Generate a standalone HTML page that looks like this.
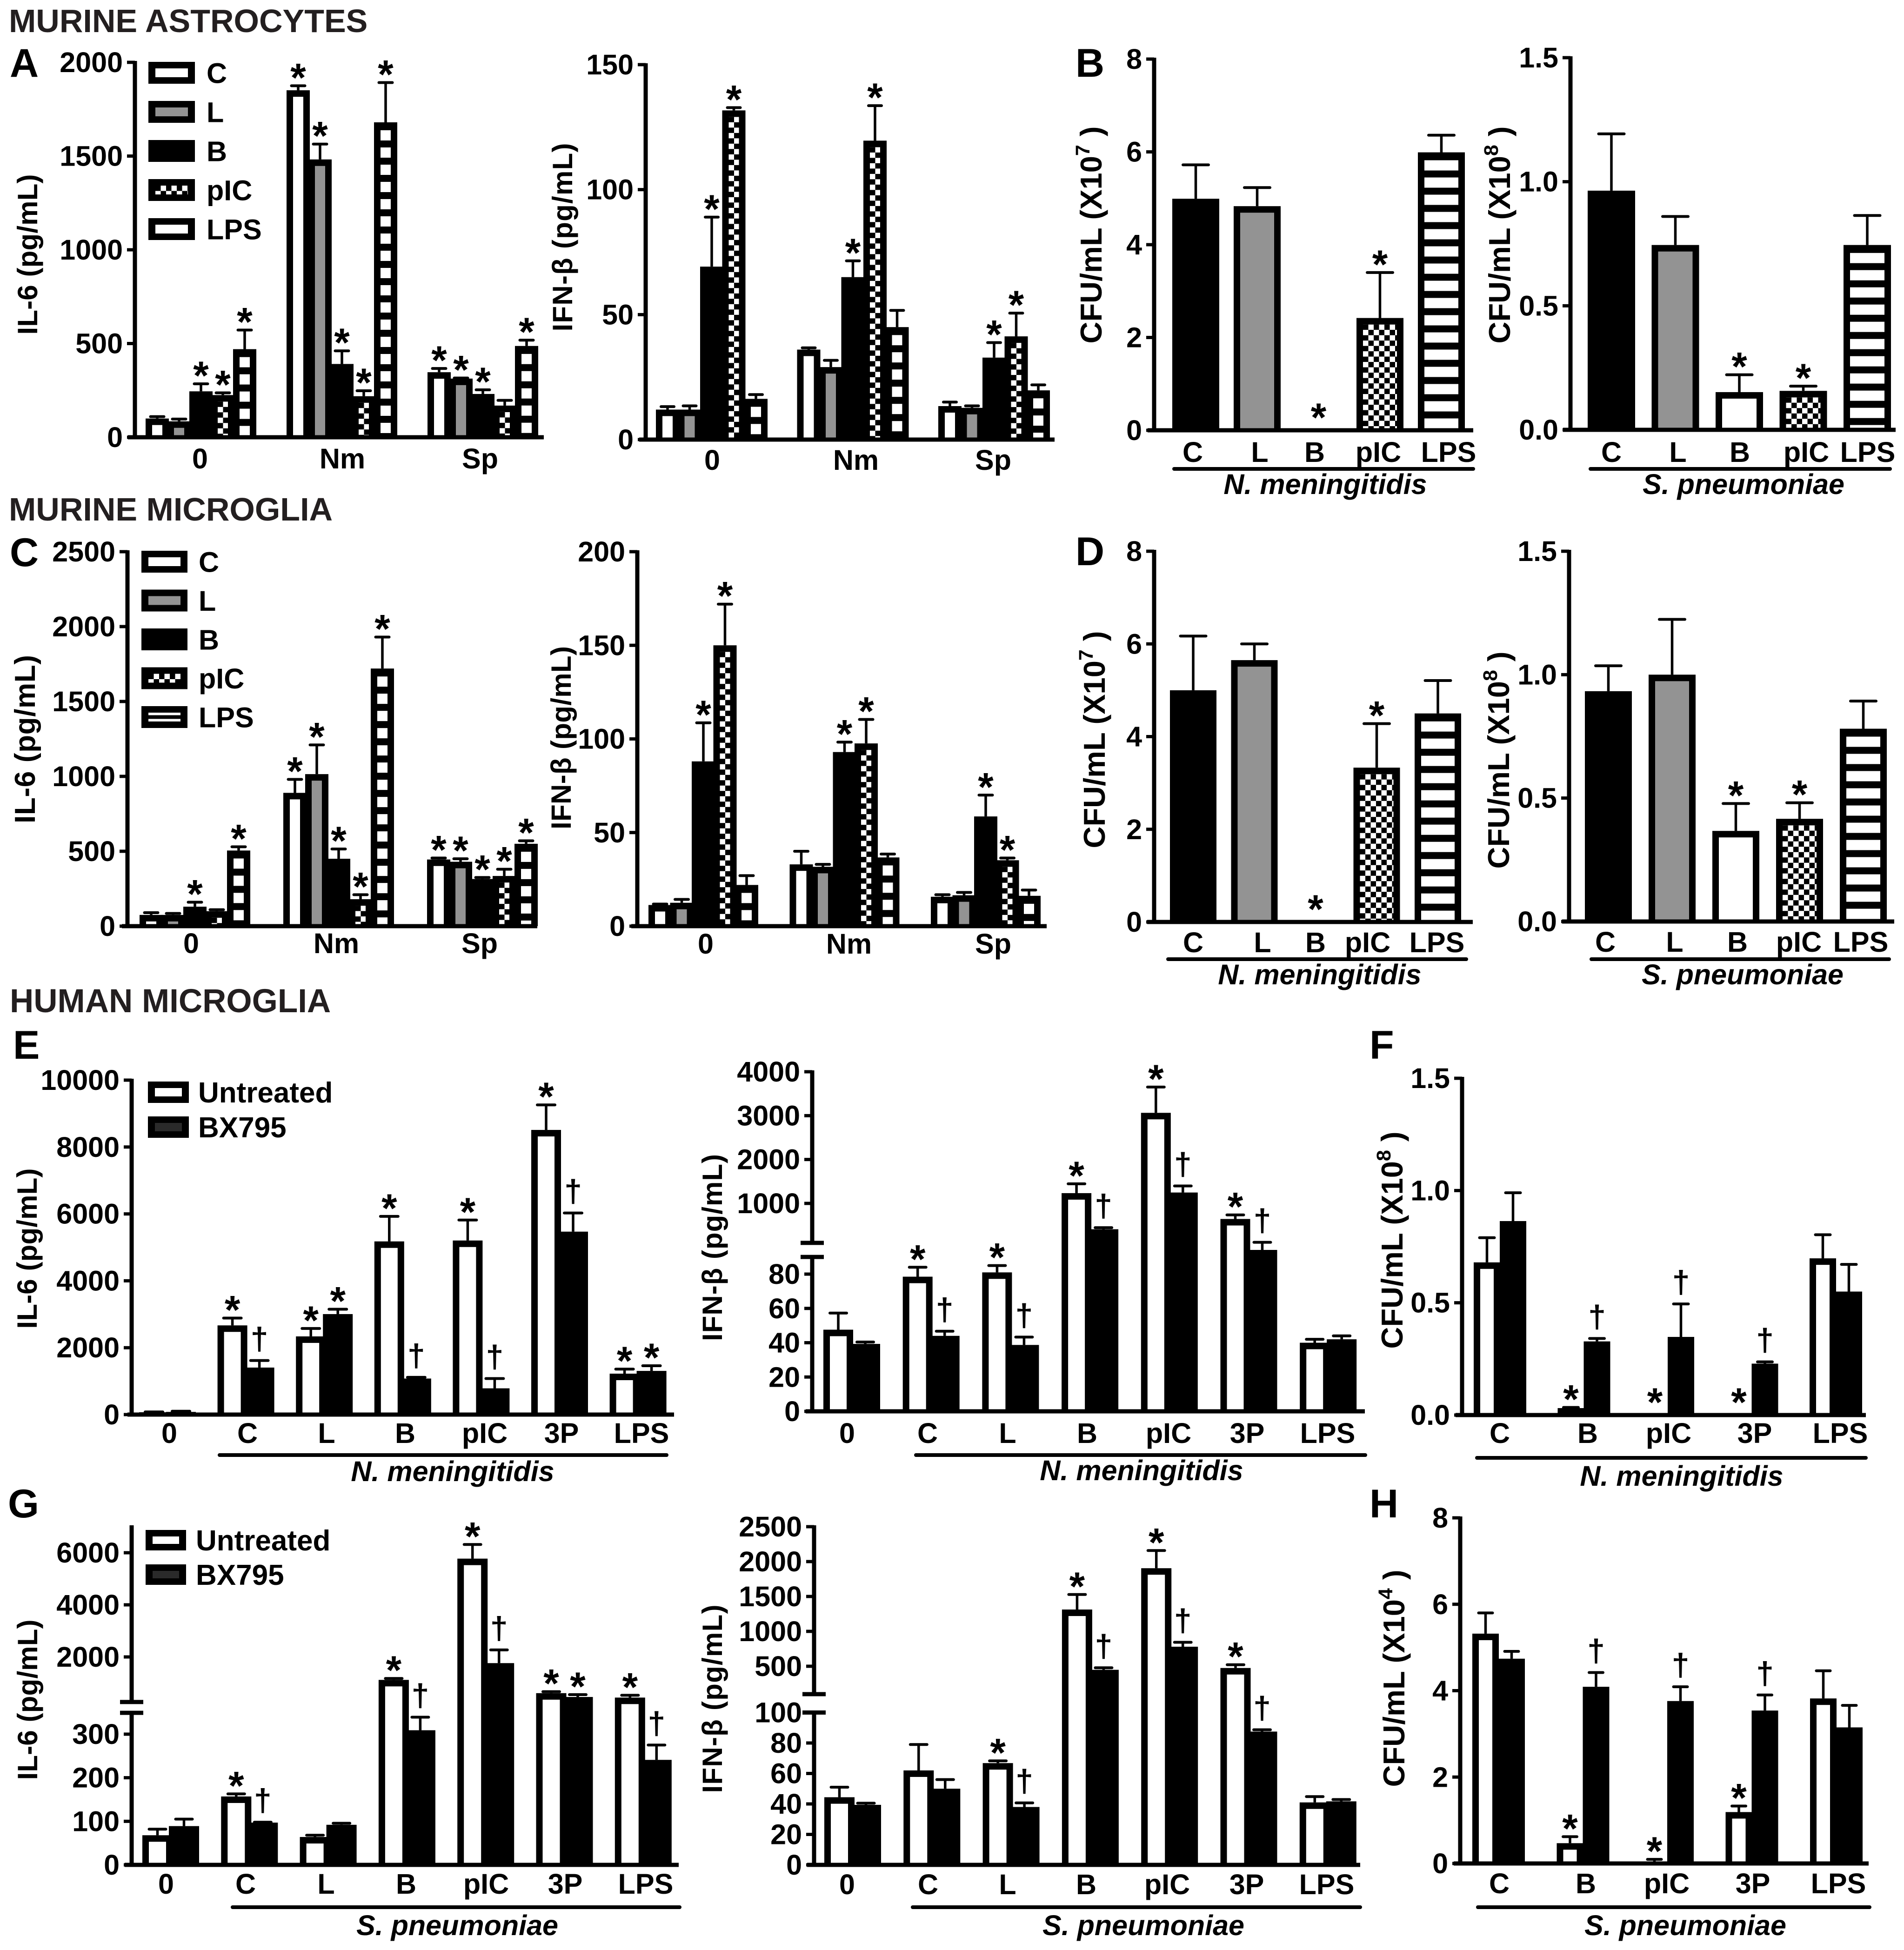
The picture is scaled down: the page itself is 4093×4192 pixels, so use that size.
<!DOCTYPE html>
<html lang="en">
<head>
<meta charset="utf-8">
<title>Murine and human glia cytokine and bacterial burden bar charts</title>
<style>
html,body{margin:0;padding:0;background:#fff;}
svg{display:block;position:absolute;left:0;top:0;}
text{font-family:"Liberation Sans",Arial,sans-serif;font-weight:bold;fill:#000;}
.heading{font-size:70px;fill:#231f20;}
.letter{font-size:86px;}
</style>
</head>
<body>
<svg id="figure" xmlns="http://www.w3.org/2000/svg" width="4093" height="4192" viewBox="0 0 4093 4192">
<defs>
<pattern id="check" patternUnits="userSpaceOnUse" width="23" height="23">
<rect width="23" height="23" fill="#fff"/>
<rect width="11.5" height="11.5" fill="#000"/>
<rect x="11.5" y="11.5" width="11.5" height="11.5" fill="#000"/>
</pattern>
<pattern id="stripe" patternUnits="userSpaceOnUse" width="100" height="37">
<rect width="100" height="22" fill="#fff"/>
<rect y="22" width="100" height="15" fill="#000"/>
</pattern>
</defs>
<rect width="4093" height="4192" fill="#fff"/>
<text class="heading" x="19" y="69">MURINE ASTROCYTES</text>
<text class="heading" x="19" y="1119">MURINE MICROGLIA</text>
<text class="heading" x="21" y="2176" style="font-size:71px">HUMAN MICROGLIA</text>
<text class="letter" x="21" y="165">A</text>
<text class="letter" x="2312" y="165">B</text>
<text class="letter" x="21" y="1217">C</text>
<text class="letter" x="2312" y="1215">D</text>
<text class="letter" x="28" y="2276">E</text>
<text class="letter" x="2944" y="2276">F</text>
<text class="letter" x="17" y="3262">G</text>
<text class="letter" x="2944" y="3262">H</text>
</svg>
<script>
/* ---------- chart data ---------- */
const groupCategories = ['0', 'Nm', 'Sp'];
const cfuCategories = ['C', 'L', 'B', 'pIC', 'LPS'];
const humanCategories = ['0', 'C', 'L', 'B', 'pIC', '3P', 'LPS'];
const humanCfuCategories = ['C', 'B', 'pIC', '3P', 'LPS'];

const a1Ticks = [0, 500, 1000, 1500, 2000];
const a1Values = [[100, 85, 245, 225, 470], [1851, 1482, 391, 219, 1680], [347, 313, 231, 169, 487]];
const a1Upper = [[110, 97, 285, 237, 572], [1875, 1564, 461, 248, 1892], [367, 316, 253, 197, 518]];
const a1Marks = [['', '', '*', '*', '*'], ['*', '*', '*', '*', '*'], ['*', '*', '*', '', '*']];

const a2Ticks = [0, 50, 100, 150];
const a2Values = [[12, 12, 69.2, 131.7, 16.3], [36, 29, 65, 119.6, 45], [13.4, 12.7, 32.8, 41.3, 19.7]];
const a2Upper = [[13.2, 13.5, 89, 132.8, 18], [36.7, 31.7, 71.5, 133.6, 51.7], [15, 13.5, 38.8, 50.6, 21.9]];
const a2Marks = [['', '', '*', '*', ''], ['', '', '*', '*', ''], ['', '', '*', '*', '']];

const b1Ticks = [0, 2, 4, 6, 8];
const b1Values = [[4.99], [4.83], [0], [2.42], [5.99]];
const b1Upper = [[5.72], [5.23], [0], [3.4], [6.36]];
const b1Marks = [[''], [''], ['*'], ['*'], ['']];

const b2Ticks = [0, 0.5, 1, 1.5];
const b2TickLabels = ['0.0', '0.5', '1.0', '1.5'];
const b2Values = [[0.964], [0.745], [0.152], [0.157], [0.745]];
const b2Upper = [[1.193], [0.86], [0.222], [0.176], [0.864]];
const b2Marks = [[''], [''], ['*'], ['*'], ['']];

const c1Ticks = [0, 500, 1000, 1500, 2000, 2500];
const c1Values = [[75, 75, 130, 100, 505], [890, 1015, 450, 180, 1720], [445, 430, 315, 335, 550]];
const c1Upper = [[90, 85, 160, 110, 530], [980, 1210, 515, 210, 1930], [455, 450, 325, 380, 570]];
const c1Marks = [['', '', '*', '', '*'], ['*', '*', '*', '*', '*'], ['*', '*', '*', '*', '*']];

const c2Ticks = [0, 50, 100, 150, 200];
const c2Values = [[11.3, 12.5, 88, 150, 22], [33, 31.7, 93, 97.6, 36.7], [15.7, 16.5, 58.6, 35.2, 16.2]];
const c2Upper = [[11.8, 14.3, 108.6, 172, 27], [40, 33, 98.3, 110.4, 38.5], [16.8, 18, 70, 36.4, 19.3]];
const c2Marks = [['', '', '*', '*', ''], ['', '', '*', '*', ''], ['', '', '*', '*', '']];

const d1Ticks = [0, 2, 4, 6, 8];
const d1Values = [[5], [5.65], [0], [3.33], [4.5]];
const d1Upper = [[6.17], [6], [0], [4.28], [5.21]];
const d1Marks = [[''], [''], ['*'], ['*'], ['']];

const d2Ticks = [0, 0.5, 1, 1.5];
const d2TickLabels = ['0.0', '0.5', '1.0', '1.5'];
const d2Values = [[0.933], [1], [0.367], [0.416], [0.781]];
const d2Upper = [[1.036], [1.224], [0.478], [0.481], [0.893]];
const d2Marks = [[''], [''], ['*'], ['*'], ['']];

const e1Ticks = [0, 2000, 4000, 6000, 8000, 10000];
const e1Values = [[70, 80], [2667, 1406], [2338, 3005], [5178, 1078], [5205, 785], [8511, 5470], [1224, 1306]];
const e1Upper = [[80, 100], [2886, 1616], [2575, 3150], [5927, 1114], [5817, 1078], [9260, 6027], [1360, 1461]];
const e1Marks = [['', ''], ['*', '†'], ['*', '*'], ['*', '†'], ['*', '†'], ['*', '†'], ['*', '*']];

const e2Ticks = [0, 20, 40, 60, 80, 1000, 2000, 3000, 4000];
const e2Values = [[47.6, 39.3], [78.5, 44], [81, 38.7], [1234, 411], [3064, 1248], [645, 95], [40, 42]];
const e2Upper = [[57.3, 40.4], [84, 46.7], [85, 43.3], [1447, 447], [3652, 1397], [738, 114], [42, 44]];
const e2Marks = [['', ''], ['*', '†'], ['*', '†'], ['*', '†'], ['*', '†'], ['*', '†'], ['', '']];

const fTicks = [0, 0.5, 1, 1.5];
const fTickLabels = ['0.0', '0.5', '1.0', '1.5'];
const fValues = [[0.68, 0.864], [0.031, 0.328], [0, 0.348], [0, 0.229], [0.698, 0.55]];
const fUpper = [[0.79, 0.99], [0.034, 0.341], [0, 0.495], [0, 0.237], [0.803, 0.671]];
const fMarks = [['', ''], ['*', '†'], ['*', '†'], ['*', '†'], ['', '']];

const g1Ticks = [0, 100, 200, 300, 2000, 4000, 6000];
const g1Values = [[68, 89], [157, 97], [64, 92], [1119, 309], [5774, 1763], [610, 463], [440, 241]];
const g1Upper = [[82, 105], [163, 98], [68, 95.6], [1175, 339], [6316, 2271], [667, 553], [530, 275]];
const g1Marks = [['', ''], ['*', '†'], ['', ''], ['*', '†'], ['*', '†'], ['*', '*'], ['*', '†']];

const g2Ticks = [0, 20, 40, 60, 80, 100, 500, 1000, 1500, 2000, 2500];
const g2Values = [[44.4, 39.4], [62, 50], [66.8, 38], [1313, 449], [1905, 780], [475, 87.5], [41, 41.7]];
const g2Upper = [[51, 40.5], [79, 56], [68.3, 40.7], [1528, 478], [2158, 843], [522, 88.7], [44.8, 42.9]];
const g2Marks = [['', ''], ['', ''], ['*', '†'], ['*', '†'], ['*', '†'], ['*', '†'], ['', '']];

const hTicks = [0, 2, 4, 6, 8];
const hValues = [[5.32, 4.74], [0.47, 4.09], [0.03, 3.76], [1.19, 3.54], [3.82, 3.15]];
const hUpper = [[5.8, 4.91], [0.62, 4.42], [0.095, 4.09], [1.33, 3.9], [4.46, 3.66]];
const hMarks = [['', ''], ['*', '†'], ['*', '†'], ['*', '†'], ['', '']];

const treatmentLegendLabels = ['C', 'L', 'B', 'pIC', 'LPS'];
const inhibitorLegendLabels = ['Untreated', 'BX795'];

/* ---------- bar styling (not data) ---------- */
const fiveFills = ['white', 'gray', 'black', 'check', 'stripe'];
const twoFills = ['white', 'black'];
const BORDER = 14;
const STRIPE_OFFSET = 17;

/* ---------- helpers ---------- */
const SVG_NS = 'http://www.w3.org/2000/svg';
const figure = document.getElementById('figure');

function make(tag, parent, attrs, text) {
  const el = document.createElementNS(SVG_NS, tag);
  for (const key in attrs) el.setAttribute(key, attrs[key]);
  if (text !== undefined) el.textContent = text;
  parent.appendChild(el);
  return el;
}

function linear(v0, y0, v1, y1) {
  return v => y0 + (v - v0) * (y1 - y0) / (v1 - v0);
}

function makeScale(spec) {
  if (!spec.lo) return linear(0, spec.y0, spec.vTop, spec.yTop);
  const lower = linear(0, spec.lo.y0, spec.lo.v1, spec.lo.y1);
  const upper = linear(spec.hi.v0, spec.hi.y0, spec.hi.v1, spec.hi.y1);
  const scale = v => {
    if (v <= spec.lo.max) return lower(v);
    if (v < spec.hi.min) {
      const t = (v - spec.lo.max) / (spec.hi.min - spec.lo.max);
      return lower(spec.lo.max) + t * (upper(spec.hi.min) - lower(spec.lo.max));
    }
    return upper(v);
  };
  scale.lower = lower;
  scale.upper = upper;
  return scale;
}

function paintInner(parent, kind, x, w, top, bottom) {
  const inner = { white: '#fff', gray: '#939393', check: 'url(#check)' };
  const h = bottom - top;
  if (h <= 0) return null;
  const offset = kind === 'stripe' ? STRIPE_OFFSET : BORDER;
  const iy = top + offset;
  const ih = bottom - iy;
  if (ih <= 0 || kind === 'black') return null;
  return make('rect', parent, {
    transform: 'translate(' + (x + BORDER) + ',' + iy + ')',
    width: w - 2 * BORDER,
    height: ih,
    fill: kind === 'stripe' ? 'url(#stripe)' : inner[kind]
  });
}

/* ---------- chart renderer ---------- */
function drawChart(p) {
  const y = makeScale(p.scale);
  const y0 = y(0);

  const chart = make('g', figure, {});
  
  

  const plot = make('g', chart, {});
  
  

  p.values.forEach((row, g) => {
    row.forEach((value, s) => {
      const x = p.start + g * p.pitch + s * p.step;
      const cx = x + p.barW / 2;
      const top = y(value);
      const kind = p.fillByCategory ? p.fills[g] : p.fills[s];

      if (value > 0 && kind !== 'none') {
        const barGroup = make('g', plot, {});
        
        
        const outer = make('rect', barGroup, { x: x, y: top, width: p.barW, height: y0 - top, fill: '#000' });
        
        
        const fill = paintInner(barGroup, kind, x, p.barW, top, y0);
        if (fill) {
          
          
        }
      }

      const upperValue = p.upper[g][s];
      const capY = y(upperValue);
      if (upperValue > value) {
        const stem = make('line', plot, { x1: cx, x2: cx, y1: top, y2: capY, stroke: '#000', 'stroke-width': 5.5 });
        
        
        const cap = make('line', plot, { x1: cx - p.capW / 2, x2: cx + p.capW / 2, y1: capY, y2: capY, stroke: '#000', 'stroke-width': 6, 'stroke-linecap': 'round' });
        
        
      }

      const mark = p.marks[g][s];
      if (mark === '*') {
        const gap = upperValue > 0 ? 14 : 24;
        const star = make('text', plot, { x: cx, y: capY - gap + 26, 'font-size': 86, 'text-anchor': 'middle' }, '*');
        
        
      } else if (mark === '†') {
        const dagger = make('text', plot, { x: cx, y: capY - 24, 'font-size': 68, 'text-anchor': 'middle' }, '†');
        
        
      }
    });
  });

  /* axes */
  const axes = make('g', chart, {});
  
  

  const xAxis = make('line', axes, { x1: p.xStart, x2: p.xEnd, y1: y0, y2: y0, stroke: '#000', 'stroke-width': 9 });
  
  

  const yTop = y(p.axisMax);
  if (p.scale.lo) {
    const breakLow = y.lower(p.scale.lo.max);
    const breakHigh = y.upper(p.scale.hi.min);
    const lowLine = make('line', axes, { x1: p.axisX, x2: p.axisX, y1: y0 + 4, y2: breakLow, stroke: '#000', 'stroke-width': 9 });
    
    
    const highLine = make('line', axes, { x1: p.axisX, x2: p.axisX, y1: breakHigh, y2: yTop - 3, stroke: '#000', 'stroke-width': 9 });
    
    
    const markLow = make('line', axes, { x1: p.axisX - 25, x2: p.axisX + 25, y1: breakLow, y2: breakLow, stroke: '#000', 'stroke-width': 9 });
    
    
    const markHigh = make('line', axes, { x1: p.axisX - 25, x2: p.axisX + 25, y1: breakHigh, y2: breakHigh, stroke: '#000', 'stroke-width': 9 });
    
    
  } else {
    const yLine = make('line', axes, { x1: p.axisX, x2: p.axisX, y1: y0 + 4, y2: yTop - 3, stroke: '#000', 'stroke-width': 9 });
    
    
  }

  p.ticks.forEach((tick, i) => {
    const ty = y(tick);
    const tickLine = make('line', axes, { x1: p.axisX - 17, x2: p.axisX, y1: ty, y2: ty, stroke: '#000', 'stroke-width': 7 });
    
    
    const label = p.tickLabels ? p.tickLabels[i] : String(tick);
    const tickText = make('text', axes, { x: p.axisX - 26, y: ty + 21, 'font-size': 61, 'text-anchor': 'end' }, label);
    
    
  });

  p.categories.forEach((cat, i) => {
    const catText = make('text', axes, { x: p.labelCenters[i], y: p.labelY + 22, 'font-size': 61, 'text-anchor': 'middle' }, cat);
    
    
  });

  /* axis title */
  const titleAttrs = {
    transform: 'translate(' + (p.title.x + 18) + ',' + p.title.y + ') rotate(-90)',
    'font-size': p.title.size || 60,
    'text-anchor': 'middle'
  };
  if (p.title.len) titleAttrs.textLength = p.title.len;
  const title = make('text', chart, titleAttrs);
  
  
  make('tspan', title, {}, p.title.text);
  if (p.title.sup) {
    make('tspan', title, { dy: -26, 'font-size': 43 }, p.title.sup);
    make('tspan', title, { dy: 26 }, p.title.end);
  }

  /* species underline and label */
  if (p.species) {
    const rule = make('line', chart, { x1: p.species.x1, x2: p.species.x2, y1: p.species.ruleY, y2: p.species.ruleY, stroke: '#000', 'stroke-width': 8, 'stroke-linecap': 'round' });
    
    
    const species = make('text', chart, { x: p.species.x, y: p.species.y, 'font-size': 61, 'font-style': 'italic', 'text-anchor': 'middle' }, p.species.name);
    
    
  }
}

function drawLegend(l) {
  const legend = make('g', figure, {});
  
  
  l.labels.forEach((label, i) => {
    const top = l.top + i * l.rowStep;
    const entry = make('g', legend, {});
    
    
    const box = make('rect', entry, { x: l.x, y: top, width: l.w, height: l.h, fill: '#000' });
    
    
    const kind = l.fills[i];
    const colours = { white: '#fff', gray: '#939393', check: 'url(#check)', dark: '#2a2a2a', lines: '#fff' };
    if (kind !== 'black') {
      const inner = make('rect', entry, {
        transform: 'translate(' + (l.x + 15) + ',' + (top + 14) + ')',
        width: l.w - 30,
        height: l.h - 28,
        fill: colours[kind]
      });
      
      
    }
    if (kind === 'lines') {
      const divider = make('rect', entry, { x: l.x + 15, y: top + l.h / 2 - 4, width: l.w - 30, height: 8, fill: '#000' });
      
      
    }
    const text = make('text', entry, { x: l.textX, y: top + l.h / 2 + 22, 'font-size': l.size }, label);
    
    
  });
}

/* ---------- panels ---------- */
drawChart({
  id: 'astrocyte-il6', categories: groupCategories, values: a1Values, upper: a1Upper, marks: a1Marks,
  ticks: a1Ticks, fills: fiveFills,
  scale: { y0: 940, vTop: 2000, yTop: 134 }, axisMax: 2000, axisX: 290, xStart: 275, xEnd: 1169,
  start: 313, pitch: 303, barW: 50, step: 47, capW: 29, labelCenters: [430, 736, 1032], labelY: 985,
  title: { text: 'IL-6 (pg/mL)', x: 62, y: 547, len: 345 }
});
drawChart({
  id: 'astrocyte-ifnb', categories: groupCategories, values: a2Values, upper: a2Upper, marks: a2Marks,
  ticks: a2Ticks, fills: fiveFills,
  scale: { y0: 945, vTop: 150, yTop: 139 }, axisMax: 150, axisX: 1388, xStart: 1374, xEnd: 2267,
  start: 1410, pitch: 303.5, barW: 50, step: 47.5, capW: 28, labelCenters: [1531, 1840, 2135], labelY: 988,
  title: { text: 'IFN-β (pg/mL)', x: 1212, y: 510, len: 405 }
});
drawChart({
  id: 'astrocyte-cfu-nm', categories: cfuCategories, values: b1Values, upper: b1Upper, marks: b1Marks,
  ticks: b1Ticks, fills: ['black', 'gray', 'none', 'check', 'stripe'], fillByCategory: true,
  scale: { y0: 925, vTop: 8, yTop: 127 }, axisMax: 8, axisX: 2481, xStart: 2467, xEnd: 3167,
  start: 2520, pitch: 132, barW: 101, step: 0, capW: 55, labelCenters: [2564, 2708, 2826, 2963, 3114], labelY: 971,
  title: { text: 'CFU/mL (X10', sup: '7', end: ' )', x: 2350, y: 505, size: 65 },
  species: { name: 'N. meningitidis', x1: 2524, x2: 3167, ruleY: 1008, x: 2849, y: 1062 }
});
drawChart({
  id: 'astrocyte-cfu-sp', categories: cfuCategories, values: b2Values, upper: b2Upper, marks: b2Marks,
  ticks: b2Ticks, tickLabels: b2TickLabels, fills: ['black', 'gray', 'white', 'check', 'stripe'], fillByCategory: true,
  scale: { y0: 924, vTop: 1.5, yTop: 124 }, axisMax: 1.5, axisX: 3376, xStart: 3360, xEnd: 4075,
  start: 3413, pitch: 137.5, barW: 102, step: 0, capW: 55, labelCenters: [3464, 3607, 3740, 3883, 4015], labelY: 971,
  title: { text: 'CFU/mL (X10', sup: '8', end: ' )', x: 3228, y: 505, size: 65 },
  species: { name: 'S. pneumoniae', x1: 3419, x2: 4063, ruleY: 1008, x: 3748, y: 1062 }
});
drawChart({
  id: 'microglia-il6', categories: groupCategories, values: c1Values, upper: c1Upper, marks: c1Marks,
  ticks: c1Ticks, fills: fiveFills,
  scale: { y0: 1991, vTop: 2500, yTop: 1186 }, axisMax: 2500, axisX: 274, xStart: 262, xEnd: 1155,
  start: 300, pitch: 309, barW: 50, step: 47, capW: 29, labelCenters: [411, 723, 1031], labelY: 2027,
  title: { text: 'IL-6 (pg/mL)', x: 57, y: 1589, len: 362, size: 62 }
});
drawChart({
  id: 'microglia-ifnb', categories: groupCategories, values: c2Values, upper: c2Upper, marks: c2Marks,
  ticks: c2Ticks, fills: fiveFills,
  scale: { y0: 1991, vTop: 200, yTop: 1186 }, axisMax: 200, axisX: 1370, xStart: 1357, xEnd: 2250,
  start: 1394, pitch: 303.5, barW: 50, step: 46.5, capW: 29, labelCenters: [1517, 1825, 2135], labelY: 2028,
  title: { text: 'IFN-β (pg/mL)', x: 1209, y: 1586, len: 394 }
});
drawChart({
  id: 'microglia-cfu-nm', categories: cfuCategories, values: d1Values, upper: d1Upper, marks: d1Marks,
  ticks: d1Ticks, fills: ['black', 'gray', 'none', 'check', 'stripe'], fillByCategory: true,
  scale: { y0: 1982, vTop: 8, yTop: 1185 }, axisMax: 8, axisX: 2481, xStart: 2466, xEnd: 3166,
  start: 2515, pitch: 131.5, barW: 100, step: 0, capW: 55, labelCenters: [2565, 2714, 2828, 2940, 3089], labelY: 2025,
  title: { text: 'CFU/mL (X10', sup: '7', end: ' )', x: 2357, y: 1590, size: 65 },
  species: { name: 'N. meningitidis', x1: 2511, x2: 3152, ruleY: 2062, x: 2837, y: 2116 }
});
drawChart({
  id: 'microglia-cfu-sp', categories: cfuCategories, values: d2Values, upper: d2Upper, marks: d2Marks,
  ticks: d2Ticks, tickLabels: d2TickLabels, fills: ['black', 'gray', 'white', 'check', 'stripe'], fillByCategory: true,
  scale: { y0: 1981, vTop: 1.5, yTop: 1185 }, axisMax: 1.5, axisX: 3373, xStart: 3358, xEnd: 4072,
  start: 3407, pitch: 137, barW: 101, step: 0, capW: 55, labelCenters: [3451, 3600, 3735, 3867, 4000], labelY: 2024,
  title: { text: 'CFU/mL (X10', sup: '8', end: ' )', x: 3226, y: 1634, size: 65 },
  species: { name: 'S. pneumoniae', x1: 3421, x2: 4061, ruleY: 2062, x: 3746, y: 2116 }
});
drawChart({
  id: 'human-nm-il6', categories: humanCategories, values: e1Values, upper: e1Upper, marks: e1Marks,
  ticks: e1Ticks, fills: twoFills,
  scale: { y0: 3041, vTop: 10000, yTop: 2322 }, axisMax: 10000, axisX: 283, xStart: 274, xEnd: 1449,
  start: 299, pitch: 168.6, barW: 64, step: 58, capW: 38, labelCenters: [364, 532, 702, 871, 1042, 1207, 1379], labelY: 3080,
  title: { text: 'IL-6 (pg/mL)', x: 61, y: 2684, len: 345 },
  species: { name: 'N. meningitidis', x1: 472, x2: 1433, ruleY: 3128, x: 973, y: 3184 }
});
drawChart({
  id: 'human-nm-ifnb', categories: humanCategories, values: e2Values, upper: e2Upper, marks: e2Marks,
  ticks: e2Ticks, fills: twoFills,
  scale: { lo: { y0: 3034, v1: 80, y1: 2739, max: 90 }, hi: { v0: 1000, y0: 2587, v1: 4000, y1: 2304, min: 100 } },
  axisMax: 4000, axisX: 1746, xStart: 1732, xEnd: 2934,
  start: 1770, pitch: 170.7, barW: 64, step: 58, capW: 36, labelCenters: [1821, 1994, 2166, 2337, 2512, 2681, 2854], labelY: 3080,
  title: { text: 'IFN-β (pg/mL)', x: 1534, y: 2682, len: 402 },
  species: { name: 'N. meningitidis', x1: 1969, x2: 2935, ruleY: 3128, x: 2454, y: 3182 }
});
drawChart({
  id: 'human-nm-cfu', categories: humanCfuCategories, values: fValues, upper: fUpper, marks: fMarks,
  ticks: fTicks, tickLabels: fTickLabels, fills: twoFills,
  scale: { y0: 3042, vTop: 1.5, yTop: 2318 }, axisMax: 1.5, axisX: 3143, xStart: 3129, xEnd: 4011,
  start: 3168, pitch: 180.5, barW: 57, step: 56, capW: 32, labelCenters: [3224, 3413, 3587, 3772, 3956], labelY: 3080,
  title: { text: 'CFU/mL (X10', sup: '8', end: ' )', x: 2997, y: 2666, size: 65 },
  species: { name: 'N. meningitidis', x1: 3175, x2: 4011, ruleY: 3134, x: 3615, y: 3194 }
});
drawChart({
  id: 'human-sp-il6', categories: humanCategories, values: g1Values, upper: g1Upper, marks: g1Marks,
  ticks: g1Ticks, fills: twoFills,
  scale: { lo: { y0: 4009, v1: 300, y1: 3728, max: 349 }, hi: { v0: 2000, y0: 3562, v1: 6000, y1: 3338, min: 271 } },
  axisMax: 7000, axisX: 283, xStart: 268, xEnd: 1459,
  start: 306, pitch: 169.3, barW: 65, step: 57, capW: 36, labelCenters: [357, 528, 701, 873, 1045, 1215, 1388], labelY: 4049,
  title: { text: 'IL-6 (pg/mL)', x: 62, y: 3654, len: 345 },
  species: { name: 'S. pneumoniae', x1: 500, x2: 1461, ruleY: 4100, x: 983, y: 4160 }
});
drawChart({
  id: 'human-sp-ifnb', categories: humanCategories, values: g2Values, upper: g2Upper, marks: g2Marks,
  ticks: g2Ticks, fills: twoFills,
  scale: { lo: { y0: 4009, v1: 80, y1: 3747, max: 100 }, hi: { v0: 500, y0: 3582, v1: 2500, y1: 3282, min: 100 } },
  axisMax: 2500, axisX: 1750, xStart: 1735, xEnd: 2924,
  start: 1772, pitch: 170.3, barW: 65, step: 57, capW: 36, labelCenters: [1821, 1995, 2166, 2335, 2509, 2680, 2852], labelY: 4050,
  title: { text: 'IFN-β (pg/mL)', x: 1534, y: 3652, len: 405 },
  species: { name: 'S. pneumoniae', x1: 1962, x2: 2924, ruleY: 4100, x: 2458, y: 4160 }
});
drawChart({
  id: 'human-sp-cfu', categories: humanCfuCategories, values: hValues, upper: hUpper, marks: hMarks,
  ticks: hTicks, fills: twoFills,
  scale: { y0: 4006, vTop: 8, yTop: 3263 }, axisMax: 8, axisX: 3139, xStart: 3125, xEnd: 4017,
  start: 3165, pitch: 181.5, barW: 57, step: 56, capW: 30, labelCenters: [3223, 3409, 3583, 3768, 3952], labelY: 4048,
  title: { text: 'CFU/mL (X10', sup: '4', end: ' )', x: 3001, y: 3608, size: 65 },
  species: { name: 'S. pneumoniae', x1: 3177, x2: 4019, ruleY: 4100, x: 3623, y: 4160 }
});

drawLegend({ id: 'legend-astrocytes', labels: treatmentLegendLabels, fills: ['white', 'gray', 'black', 'check', 'white'], x: 319, w: 100, h: 47, top: 133, rowStep: 84, textX: 444, size: 61 });
drawLegend({ id: 'legend-microglia', labels: treatmentLegendLabels, fills: ['white', 'gray', 'black', 'check', 'lines'], x: 304, w: 99, h: 47, top: 1184, rowStep: 83.5, textX: 427, size: 61 });
drawLegend({ id: 'legend-human-nm', labels: inhibitorLegendLabels, fills: ['white', 'dark'], x: 318, w: 88, h: 46, top: 2325, rowStep: 75, textX: 426, size: 62 });
drawLegend({ id: 'legend-human-sp', labels: inhibitorLegendLabels, fills: ['white', 'dark'], x: 313, w: 87, h: 44, top: 3289, rowStep: 74, textX: 421, size: 62 });
</script>
</body>
</html>
